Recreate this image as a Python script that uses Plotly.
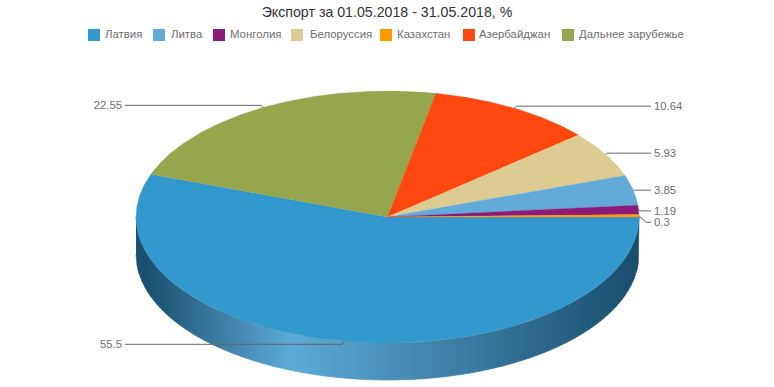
import numpy as np
import plotly.graph_objects as go

# ---- data ----
CATEGORIES = ["Латвия", "Литва", "Монголия", "Белоруссия", "Казахстан", "Азербайджан", "Дальнее зарубежье"]
VALUES = [55.5, 3.85, 1.19, 5.93, 0.3, 10.64, 22.55]
COLORS = ["#3398cd", "#62aad7", "#8b1a78", "#dccc92", "#ff9900", "#ff4810", "#96a64c"]
LABELS = ["55.5", "3.85", "1.19", "5.93", "0.3", "10.64", "22.55"]
TITLE = "Экспорт за 01.05.2018 - 31.05.2018, %"

# order of the slices clockwise from 3 o'clock
SLICE_ORDER = [0, 6, 5, 3, 1, 2, 4]

# ---- layout constants (pixels) ----
W, H = 774, 387
CX, CY, RX, RY, DEPTH = 387.5, 217.0, 251.5, 126.0, 37.0
LEGEND_X = [94, 159, 219, 297, 386, 469, 568]
LEGEND_TEXT_X = [105, 171, 230, 310, 397, 479, 579]
LEGEND_Y = 35.0
LABEL_DY = {0: 3.2, 1: 0, 2: 1, 3: -1, 4: 6.5, 5: -2, 6: -2}   # elbow offset from the anchor
RIGHT_END, LEFT_END = 651, 125
LABEL_PAD = 3
TEXT_COLOR = "#6e6e6e"
LINE_COLOR = "#666666"
FONT = "Liberation Sans, Arial, sans-serif"
WALL_DARK = np.array([27, 79, 110])
WALL_LIGHT = np.array([92, 171, 215])
WALL_LIGHT_X, WALL_DARK_LEFT, WALL_DARK_RIGHT = 290.0, 148.0, 632.0


def ell(deg):
    t = np.radians(deg)
    return CX + RX * np.cos(t), CY + RY * np.sin(t)


fig = go.Figure()

# front wall of the disc, as a horizontal gradient made of thin strips
edges = np.arange(CX - RX, CX + RX + 3, 3.0)
edges[-1] = CX + RX
for a, b in zip(edges[:-1], edges[1:]):
    xs = np.linspace(a, b, 4)
    top = CY + RY * np.sqrt(np.clip(1 - ((xs - CX) / RX) ** 2, 0, 1))
    mid = (a + b) / 2
    if mid < WALL_LIGHT_X:
        k = np.clip((mid - WALL_DARK_LEFT) / (WALL_LIGHT_X - WALL_DARK_LEFT), 0, 1)
    else:
        k = np.clip((WALL_DARK_RIGHT - mid) / (WALL_DARK_RIGHT - WALL_LIGHT_X), 0, 1)
    c = WALL_DARK + (WALL_LIGHT - WALL_DARK) * k
    col = f"rgb({c[0]:.0f},{c[1]:.0f},{c[2]:.0f})"
    fig.add_trace(go.Scatter(
        x=np.r_[xs, xs[::-1]], y=np.r_[top, top[::-1] + DEPTH],
        mode="lines", fill="toself", fillcolor=col,
        line=dict(color=col, width=0.6), hoverinfo="skip", showlegend=False))

# top face slices and leader lines
total = sum(VALUES)
cum = 0.0
leaders = []
for i in SLICE_ORDER:
    start = cum / total * 360
    cum += VALUES[i]
    end = cum / total * 360
    n = max(3, int((end - start) * 2))
    ex, ey = ell(np.linspace(start, end, n))
    fig.add_trace(go.Scatter(
        x=np.r_[CX, ex, CX], y=np.r_[CY, ey, CY],
        mode="lines", fill="toself", fillcolor=COLORS[i],
        line=dict(color=COLORS[i], width=0.3),
        name=CATEGORIES[i], text=f"{CATEGORIES[i]}: {VALUES[i]}",
        hoverinfo="text", hoveron="fills", showlegend=False))
    leaders.append((i, (start + end) / 2))

for i, mid in leaders:
    ax, ay = ell(mid)
    ly = ay + LABEL_DY[i]
    right = np.cos(np.radians(mid)) > 0
    end_x = RIGHT_END if right else LEFT_END
    bend = ax + (2 if right else -2)
    if i == 4:
        bend = ax + 7
    fig.add_trace(go.Scatter(
        x=[ax, bend, end_x], y=[ay, ly, ly], mode="lines",
        line=dict(color=LINE_COLOR, width=1), hoverinfo="skip", showlegend=False))
    fig.add_trace(go.Scatter(
        x=[end_x + (LABEL_PAD if right else -LABEL_PAD)], y=[ly + 1], mode="text", text=[LABELS[i]],
        textposition="middle right" if right else "middle left",
        textfont=dict(family=FONT, size=11.3, color=TEXT_COLOR),
        hoverinfo="skip", showlegend=False))

# legend row
fig.add_trace(go.Scatter(
    x=LEGEND_X, y=[LEGEND_Y] * len(LEGEND_X), mode="markers",
    marker=dict(symbol="square", size=12, color=COLORS, line=dict(width=0)),
    hoverinfo="skip", showlegend=False))
fig.add_trace(go.Scatter(
    x=LEGEND_TEXT_X, y=[LEGEND_Y] * len(LEGEND_X), mode="text", text=CATEGORIES,
    textposition="middle right",
    textfont=dict(family=FONT, size=11.4, color=TEXT_COLOR),
    hoverinfo="skip", showlegend=False))

fig.update_layout(
    width=W, height=H, margin=dict(l=0, r=0, t=0, b=0),
    paper_bgcolor="white", plot_bgcolor="white", showlegend=False,
    title=dict(text=TITLE, x=0.5, xanchor="center", y=1 - 12 / H, yanchor="middle",
               font=dict(family=FONT, size=14.2, color="#333333")),
    xaxis=dict(range=[0, W], visible=False, fixedrange=True),
    yaxis=dict(range=[H, 0], visible=False, fixedrange=True),
)
fig.write_html("out.html", config={"displayModeBar": False},
               post_script="document.body.style.margin='0';")
